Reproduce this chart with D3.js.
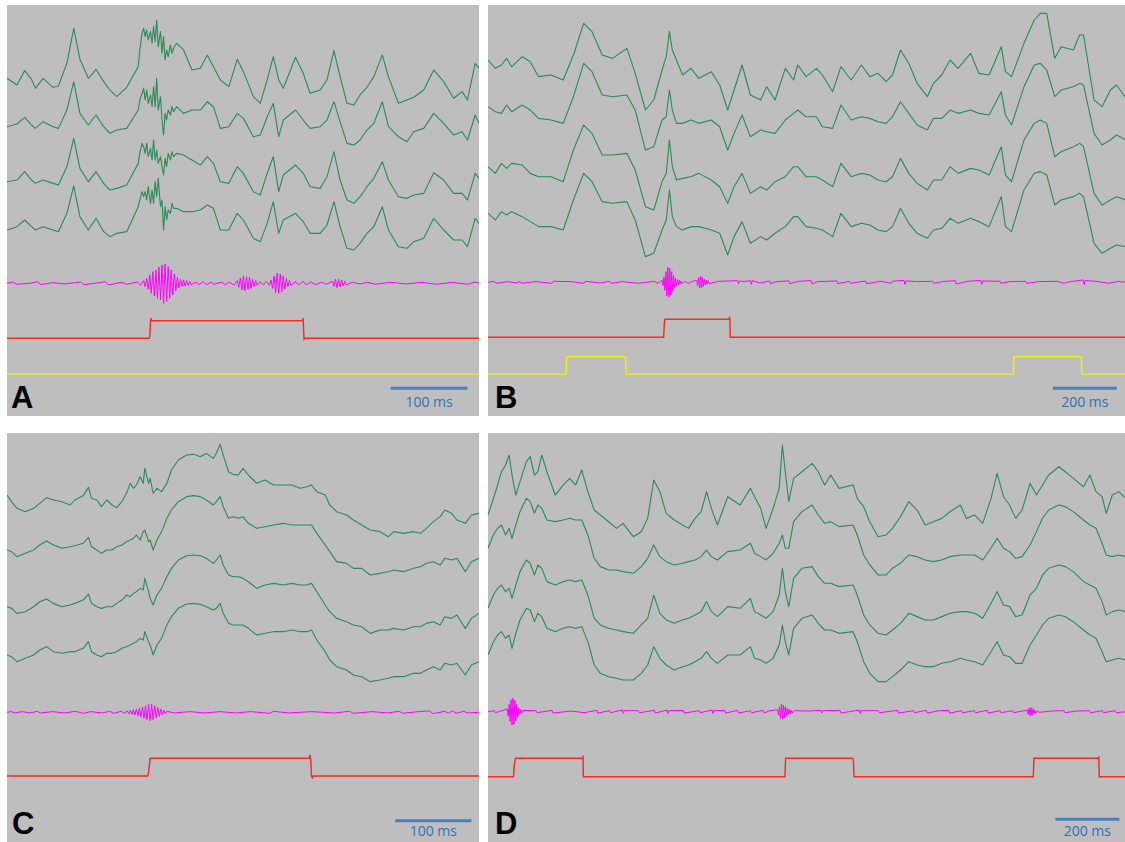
<!DOCTYPE html>
<html>
<head>
<meta charset="utf-8">
<script src="https://cdn.jsdelivr.net/npm/d3@7"></script>
<style>
  body { margin: 0; background: #fff; }
  svg { display: block; }
  .green { fill: none; stroke: #2c8a58; stroke-width: 1.1; stroke-linejoin: round; }
  .mag { fill: none; stroke: #ff00ff; stroke-width: 1; stroke-linejoin: round; }
  .ttl-red { fill: none; stroke: #f42a24; stroke-width: 1.4; }
  .ttl-yel { fill: none; stroke: #eded1c; stroke-width: 1.6; }
  .bar { stroke: #4a7fc1; stroke-width: 3; }
  .bar-text { fill: #2f70b9; font-family: "Open Sans", sans-serif; font-size: 14px; text-anchor: middle; }
  .panel-label { fill: #000; font-family: "Liberation Sans", Arial, sans-serif; font-weight: bold; font-size: 31px; }
</style>
</head>
<body>
<svg width="1125" height="842"></svg>
<script>
// ---- panel A (ms, sample times shared by the 4 channels) ----
const timesA = [0,13,23,32,37,47,60,67,78,87,
  95,106,116,126,134,143,156,171,
  173,176,178,180,182,184,187,189,191,193,195,197,200,202,204,206,208,210,213,215,217,
  221,230,241,252,261,269,278,289,300,308,
  321,330,339,347,354,360,376,386,395,408,
  417,426,434,443,452,460,469,478,489,497,
  510,521,530,543,556,569,582,593,600,610,615];
const greenA1 = [0,-20,23,-3,-30,0,-27,-23,45,150,
  57,0,27,-10,-35,-55,-27,35,
  85,135,150,125,145,115,140,105,155,110,175,95,140,75,125,55,85,65,100,75,90,
  105,85,25,30,70,35,-5,-25,57,20,
  -55,-75,-5,65,-5,-30,63,15,-45,-35,
  -5,83,5,-75,-80,-50,-27,5,70,5,
  -75,-65,-57,-35,25,-10,-60,-40,-65,45,30];
const greenA2 = [0,8,28,5,-5,15,0,-5,50,135,
  40,5,35,0,-20,-10,-5,50,
  80,100,115,80,110,70,95,60,120,60,145,50,90,20,-25,40,20,50,35,60,45,
  60,40,50,50,75,60,-5,0,40,25,
  -30,-25,30,70,-30,20,50,20,-5,0,
  20,75,15,-50,-55,-40,-10,10,75,0,
  -30,-45,-15,-5,40,10,-25,-15,-40,35,10];
const greenA3 = [0,5,30,5,-5,5,-5,-10,45,130,
  40,0,30,-5,-25,-20,-10,55,
  85,115,105,85,115,75,100,65,125,65,95,55,75,45,20,70,45,85,65,90,75,
  85,80,65,50,75,55,0,-5,45,25,
  -30,-40,25,75,-30,20,50,25,-15,-20,
  15,90,5,-55,-65,-45,-15,10,60,5,
  -45,-50,-40,-35,27,5,-35,-35,-55,25,10];
const greenA4 = [0,10,30,10,0,10,0,-5,50,132,
  40,0,35,-5,-20,-10,-5,70,
  90,115,100,115,90,130,80,120,80,145,100,155,70,90,0,70,30,60,50,80,65,
  65,55,55,60,75,65,0,0,50,30,
  -25,-35,20,85,-10,30,50,25,-10,-10,
  15,85,10,-55,-60,-40,-10,10,70,0,
  -50,-55,-35,-25,35,0,-30,-30,-50,35,20];
const magentaA = [[0,0],[8,4],[12,-3],[30,0],[40,5],[44,-4],[60,2],[75,-2],[96,4],[100,-4],[115,0],[128,5],[132,-5],[150,3],[156,-3],[170,4],[174,-6],
  [178,8],[180,-10],[182,15],[184,-18],[186,25],[188,-30],[190,35],[192,-38],[194,40],[196,-45],[198,48],[200,-50],[202,55],[204,-60],[206,58],[208,-55],[210,50],[212,-45],[214,40],[216,-35],[218,28],[220,-22],[222,18],[224,-14],[226,12],[228,-10],[230,10],[232,-8],[234,8],[236,-6],[238,6],[240,-5],
  [246,4],[250,-4],[256,5],[260,-4],[266,3],[270,-3],[280,4],[284,-4],[290,3],[296,-5],
  [300,8],[302,-12],[304,16],[306,-20],[308,22],[310,-22],[312,20],[314,-18],[316,18],[318,-15],[320,12],[322,-10],[324,8],[326,-6],
  [330,5],[334,-5],[338,6],[342,-6],
  [344,10],[346,-15],[348,22],[350,-28],[352,30],[354,-30],[356,28],[358,-25],[360,22],[362,-18],[364,14],[366,-10],[368,8],[370,-6],
  [376,5],[380,-5],[386,6],[390,-5],[396,4],[402,-4],[410,3],[416,-3],
  [424,6],[426,-9],[428,12],[430,-13],[432,12],[434,-11],[436,10],[438,-8],[440,6],[442,-5],
  [450,3],[460,-2],[470,3],[480,-3],[500,3],[520,-2],[540,3],[560,-3],[580,3],[600,-3],[610,4],[615,0]];
const redA = [[0,0],[185,0],[186,0.1],[187,1],[187.5,1.15],[188,1],[385,1],[385.5,1.15],[386,1],[387,-0.05],[388,0],[615,0]];
const yellowA = [[0,0],[615,0]];
const scaleBarA = [500, 600];

// ---- panel B ----
const timesB = [0,23,42,58,74,107,132,158,197,235,
  267,299,325,357,389,434,460,492,518,544,
  557,567,576,589,608,634,659,698,724,749,
  769,794,820,852,871,897,929,955,968,994,
  1026,1045,1077,1103,1135,1167,1193,1219,1244,1264,
  1289,1315,1341,1373,1392,1418,1444,1469,1508,1534,
  1566,1604,1617,1636,1675,1707,1726,1746,1771,1791,
  1829,1849,1861,1894,1919,1945,1964,1994];
const greenB1 = [0,-25,-15,5,-20,10,-5,-50,-45,-60,
  15,110,85,15,5,35,-40,-150,-120,-30,
  10,85,30,0,-45,-25,-55,-35,-75,-150,
  -90,-15,-105,-120,-80,-120,-25,-60,-15,-50,
  -25,-45,-95,-20,-60,-15,-50,-40,-65,-45,
  30,-10,-70,-110,-70,-45,0,-25,20,-40,
  -45,40,-35,-50,50,120,140,140,5,40,
  30,75,75,-120,-140,-90,-75,-115];
const greenB2 = [0,-15,-20,5,-15,5,-10,-35,-40,-50,
  30,130,105,35,30,35,-10,-130,-120,-40,
  -30,50,-10,-50,-50,-40,-50,-40,-60,-130,
  -80,-25,-90,-70,-75,-80,-40,-20,-10,-30,
  -30,-60,-65,5,-40,-30,-35,-45,-50,-30,
  15,-20,-55,-70,-35,-35,-10,-20,-10,-20,
  -25,45,-25,-55,60,125,130,110,30,50,
  60,70,65,-80,-115,-100,-85,-100];
const greenB3 = [0,-20,10,-5,10,5,-20,-30,-30,-45,
  50,125,100,35,35,40,-10,-120,-130,-45,
  -20,80,0,-40,-35,-30,-20,-40,-60,-110,
  -60,-20,-80,-60,-70,-45,-30,0,0,-30,
  -30,-40,-60,10,-30,-20,-25,-40,-45,-30,
  25,-20,-50,-70,-40,-40,0,-20,-5,-10,
  -25,60,-25,-45,80,130,140,130,30,45,
  60,70,60,-80,-115,-100,-90,-100];
const greenB4 = [0,-20,5,-5,5,-10,-25,-40,-40,-50,
  40,120,95,35,30,35,-20,-130,-120,-50,
  -20,70,-10,-40,-50,-40,-40,-50,-60,-125,
  -70,-25,-90,-70,-80,-60,-40,-10,-10,-40,
  -45,-50,-70,0,-40,-30,-35,-50,-55,-40,
  15,-30,-60,-75,-50,-45,-15,-30,-15,-25,
  -40,50,-40,-55,70,120,125,115,25,40,
  50,60,50,-90,-120,-105,-95,-100];
const magentaB = [[0,0],[20,3],[25,-3],[60,2],[90,-2],[100,3],[104,-3],[150,2],[200,-3],[204,3],[260,2],[300,-3],[304,3],[350,-2],[380,3],[384,-3],[420,2],[470,-3],[520,3],[530,-3],
  [544,6],[547,-10],[550,16],[553,-24],[556,32],[559,-40],[562,45],[565,-45],[568,42],[571,-38],[574,32],[577,-26],[580,20],[583,-15],[586,12],[589,-10],[592,8],[595,-7],[598,6],[601,-5],[604,4],[607,-4],
  [615,3],[625,-3],[640,3],
  [652,6],[655,-10],[658,14],[661,-17],[664,18],[667,-17],[670,15],[673,-13],[676,10],[679,-9],[682,7],[685,-6],[688,5],[691,-4],
  [720,3],[780,5],[783,-5],[786,4],[800,2],[820,5],[823,-6],[826,5],[850,-2],[880,4],[883,-4],[900,2],[940,4],[943,-4],[970,3],[1010,5],[1013,-5],[1030,2],[1090,4],[1093,-4],[1130,3],[1133,-3],[1180,4],[1183,-4],[1230,3],[1260,-3],[1263,3],[1300,6],[1303,-6],[1306,4],[1340,2],[1390,3],[1393,-3],[1420,2],[1460,5],[1463,-5],[1500,3],[1540,6],[1543,-6],[1546,4],[1600,3],[1603,-3],[1630,2],[1680,3],[1683,-3],[1720,2],[1780,3],[1800,-3],[1820,2],[1860,7],[1863,-7],[1866,5],[1900,3],[1940,-3],[1970,3],[1994,0]];
const redB = [[0,0],[549,0],[551,0.8],[553,1],[754,1],[755,1.15],[756,1],[757,0],[2000,0]];
const yellowB = [[0,0],[244,0],[246,1],[430,1],[432,0],[1642,0],[1644,1],[1854,1],[1856,0],[2000,0]];
const scaleBarB = [1765, 1965];

// ---- panel C ----
const timesC = [0,6,13,24,35,43,52,61,72,83,
  89,100,107,111,118,124,131,138,144,151,
  157,162,166,170,175,179,181,186,188,192,
  197,203,210,216,225,236,245,254,262,271,
  275,280,284,291,297,304,310,317,328,339,
  350,363,374,385,394,400,407,418,424,433,
  446,455,466,477,490,501,508,521,534,543,
  551,560,569,575,584,591,602,610,620];
const greenC1 = [0,-20,-40,-50,-40,-25,-8,-15,-20,-30,
  -15,-2,23,-10,-15,-35,-15,-30,-38,-20,
  5,35,20,30,55,35,80,35,50,5,
  20,10,35,75,105,120,122,115,125,110,
  125,152,120,70,62,60,80,60,35,45,
  30,30,30,20,25,30,10,0,-30,-50,
  -60,-75,-90,-105,-110,-125,-110,-115,-110,-115,
  -100,-80,-65,-45,-55,-75,-85,-60,-55];
const greenC2 = [0,-5,-20,-10,0,15,27,15,5,10,
  13,20,38,10,0,-10,0,0,10,15,
  25,30,35,45,30,55,60,25,30,0,
  30,55,95,120,145,160,163,160,150,135,
  145,160,130,95,100,95,100,80,65,70,
  75,80,75,75,75,75,50,15,-5,-35,
  -40,-55,-55,-75,-70,-65,-60,-65,-55,-50,
  -40,-35,-45,-25,-30,-25,-65,-35,-25];
const greenC3 = [0,-5,-20,-15,0,15,23,10,0,5,
  10,20,38,10,0,-5,0,0,10,20,
  35,30,40,45,55,50,85,45,25,5,
  35,55,90,115,140,153,155,153,145,130,
  140,155,125,95,90,90,85,75,55,65,
  70,65,70,65,65,70,45,5,-15,-35,
  -45,-55,-60,-80,-70,-70,-65,-70,-60,-60,
  -50,-45,-55,-30,-35,-25,-65,-35,-20];
const greenC4 = [0,-5,-20,-10,0,15,25,10,5,10,
  10,20,40,10,0,-5,5,5,10,20,
  25,30,35,40,50,45,70,40,30,0,
  30,50,90,115,140,153,155,152,145,135,
  140,155,125,95,90,90,90,80,60,65,
  70,70,75,70,70,75,45,10,-15,-35,
  -45,-60,-65,-80,-75,-70,-65,-65,-55,-55,
  -45,-35,-45,-25,-30,-25,-60,-30,-20];
const magentaC = [[0,0],[6,2],[10,-2],[20,2],[30,-2],[40,3],[44,-2],[60,2],[75,-2],[90,3],[100,-3],[110,2],[125,-2],[135,3],[140,-3],[150,3],[154,-3],
  [158,4],[160,-5],[162,6],[164,-6],[166,8],[168,-8],[170,10],[172,-10],[174,12],[176,-14],[178,16],[180,-18],[182,20],[184,-22],[186,24],[188,-25],[190,24],[192,-22],[194,20],[196,-17],[198,14],[200,-12],[202,10],[204,-8],[206,6],[208,-5],[210,3],
  [220,-2],[240,2],[260,-2],[280,2],[300,-2],[320,2],[345,-3],[350,3],[370,-2],[400,2],[430,-2],[450,3],[455,-3],[480,2],[500,-2],[515,3],[520,-3],[540,2],[555,4],[560,-4],[575,3],[580,-3],[585,4],[590,-3],[600,3],[605,-2],[620,0]];
const redC = [[0,0],[185,0],[186,0.2],[188,1],[397,1],[398,1.2],[399,0.9],[400,0],[401,-0.1],[402,0],[620,0]];
const scaleBarC = [510, 610];

// ---- panel D ----
const timesD = [0,17,30,42,55,66,75,87,100,120,
  132,145,156,168,184,210,235,255,274,293,
  312,332,351,377,402,422,454,479,499,518,
  537,557,582,608,627,647,666,683,698,717,
  749,788,820,833,852,869,891,910,920,929,
  940,955,981,1013,1032,1052,1071,1097,1141,1154,
  1174,1193,1219,1244,1264,1289,1315,1341,1366,1392,
  1418,1444,1476,1495,1521,1546,1572,1591,1611,1630,
  1649,1669,1694,1714,1733,1752,1784,1804,1829,1861,
  1881,1900,1919,1932,1951,1971,1994];
const greenD1 = [-70,-20,20,60,80,110,50,-10,30,90,
  105,50,60,110,60,-10,20,40,20,65,
  0,-55,-70,-90,-110,-95,-135,-120,-80,35,
  0,-65,-85,-100,-110,-80,-60,0,-50,-100,
  -15,-40,10,-15,-50,-110,-50,10,140,60,
  -30,40,60,85,60,20,50,10,20,-20,
  -45,-90,-135,-130,-110,-75,-30,-55,-100,-90,
  -80,-60,-40,-80,-70,-95,-20,55,-15,-40,
  -80,-55,25,-10,20,50,75,60,40,15,
  50,0,-15,-65,-10,0,-20];
const greenD2 = [-30,10,30,40,10,30,0,40,80,120,
  110,75,100,90,55,50,55,60,55,55,
  10,-60,-85,-95,-95,-100,-105,-85,-60,-20,
  -55,-70,-80,-75,-70,-65,-55,-35,-55,-65,
  -40,-35,-15,-45,-55,-65,-45,-15,10,-30,
  -30,50,80,100,70,45,50,35,40,10,
  -50,-80,-110,-110,-90,-75,-50,-55,-65,-70,
  -65,-55,-50,-50,-50,-65,-30,0,-30,-40,
  -60,-55,-20,20,60,85,100,95,80,55,
  40,30,-15,-50,-55,-50,-55];
const greenD3 = [-30,10,30,40,20,30,0,40,80,115,
  105,70,100,90,50,40,50,55,50,55,
  10,-60,-80,-90,-95,-100,-105,-80,-60,10,
  -45,-65,-75,-65,-60,-50,-40,-10,-40,-55,
  -25,-30,0,-40,-50,-60,-40,10,90,20,
  -25,60,90,95,65,45,45,35,40,10,
  -50,-80,-105,-110,-95,-75,-45,-55,-65,-65,
  -55,-45,-40,-40,-45,-60,-15,20,-20,-25,
  -55,-50,10,30,70,90,100,95,80,50,
  40,30,-10,-50,-40,-35,-40];
const greenD4 = [-30,10,30,40,20,30,-10,35,75,110,
  105,70,95,85,50,40,50,55,50,55,
  10,-60,-85,-95,-100,-105,-105,-85,-60,-5,
  -40,-60,-75,-65,-60,-50,-40,-20,-40,-55,
  -30,-30,-5,-40,-45,-55,-40,0,60,10,
  -30,50,80,90,65,45,45,35,40,10,
  -50,-85,-110,-110,-95,-75,-50,-60,-65,-65,
  -55,-50,-40,-45,-50,-60,-20,10,-30,-35,
  -55,-55,0,30,60,80,90,85,70,45,
  30,20,-20,-50,-45,-40,-45];
const magentaD = [[0,0],[20,3],[23,-3],[40,2],
  [60,8],[63,-14],[66,22],[69,-30],[72,36],[75,-40],[78,40],[81,-38],[84,34],[87,-28],[90,22],[93,-17],[96,12],[99,-9],[102,7],[105,-5],[108,4],
  [150,3],[153,-3],[200,4],[203,-4],[260,2],[300,-3],[340,4],[343,-4],[380,3],[383,-3],[420,5],[423,-5],[426,3],[470,3],[473,-3],[520,4],[523,-4],[560,5],[563,-5],[566,3],[610,4],[613,-4],[660,3],[663,-3],[700,5],[703,-5],[706,3],[740,4],[743,-4],[780,4],[783,-4],[820,3],[823,-3],[860,4],[863,-4],[880,3],
  [905,6],[908,-10],[911,15],[914,-20],[917,22],[920,-22],[923,20],[926,-18],[929,15],[932,-12],[935,10],[938,-8],[941,7],[944,-6],[947,5],[950,-4],[955,3],
  [1000,2],[1040,4],[1043,-4],[1046,3],[1100,4],[1103,-4],[1160,5],[1163,-5],[1166,3],[1220,3],[1223,-3],[1280,4],[1283,-4],[1330,3],[1333,-3],[1370,4],[1373,-4],[1410,3],[1440,4],[1443,-4],[1480,3],[1483,-3],[1520,3],[1523,-3],[1560,4],[1563,-4],[1600,3],[1603,-3],[1640,3],[1643,-3],
  [1685,5],[1688,-8],[1691,11],[1694,-12],[1697,12],[1700,-11],[1703,9],[1706,-7],[1709,5],[1712,-4],[1718,3],[1722,-2],
  [1760,2],[1800,3],[1803,-3],[1840,2],[1880,3],[1883,-3],[1920,3],[1923,-3],[1960,3],[1963,-3],[1994,0]];
const redD = [[0,0],[80,0],[82,0.6],[86,1],[296,1],[297,1.15],[298,0],[928,0],[930,1],[1140,1],[1142,0.85],[1144,0],[1704,0],[1706,1],[1908,1],[1909,1.1],[1910,0],[2000,0]];
const scaleBarD = [1773, 1973];

// ---- layout ----
const panels = [
  { id: "A", times: timesA, greens: [greenA1, greenA2, greenA3, greenA4], magenta: magentaA, red: redA, yellow: yellowA,
    box: [7, 5, 479, 416], dur: 615, chBase: [78.3, 126.7, 181.7, 230], magBase: 283.3,
    redY: [338.3, 320.7], yelY: [374, 356.7], bar: scaleBarA, barLabel: "100 ms", barY: 388.3, textY: 407, labelPos: [11, 408] },
  { id: "B", times: timesB, greens: [greenB1, greenB2, greenB3, greenB4], magenta: magentaB, red: redB, yellow: yellowB,
    box: [488, 5, 1125, 416], dur: 2000, chBase: [60, 106.7, 166.7, 213.3], magBase: 282.3,
    redY: [337.3, 319.3], yelY: [374, 356.7], bar: scaleBarB, barLabel: "200 ms", barY: 388.3, textY: 407, labelPos: [495, 408] },
  { id: "C", times: timesC, greens: [greenC1, greenC2, greenC3, greenC4], magenta: magentaC, red: redC, yellow: null,
    box: [7, 433, 479, 842], dur: 620, chBase: [495, 550, 606.7, 655], magBase: 712.3,
    redY: [776, 758.3], yelY: null, bar: scaleBarC, barLabel: "100 ms", barY: 820.7, textY: 836, labelPos: [12, 834] },
  { id: "D", times: timesD, greens: [greenD1, greenD2, greenD3, greenD4], magenta: magentaD, red: redD, yellow: null,
    box: [488, 433, 1125, 842], dur: 2000, chBase: [491.7, 538.3, 598.3, 645], magBase: 711.7,
    redY: [776.7, 758.3], yelY: null, bar: scaleBarD, barLabel: "200 ms", barY: 819.3, textY: 836, labelPos: [495, 834] }
];

const svg = d3.select("svg");
svg.append("rect").attr("width", 1125).attr("height", 842).attr("fill", "#ffffff");

panels.forEach(p => {
  const [x0, y0, x1, y1] = p.box;
  const msPerPx = p.dur === 2000 ? 3.125 : (p.dur / (x1 - x0));
  const x = d3.scaleLinear().domain([0, p.dur]).range([x0, x0 + p.dur / msPerPx]);

  svg.append("clipPath").attr("id", "clip" + p.id)
    .append("rect").attr("x", x0).attr("y", y0).attr("width", x1 - x0).attr("height", y1 - y0);

  svg.append("rect")
    .attr("x", x0).attr("y", y0).attr("width", x1 - x0).attr("height", y1 - y0)
    .attr("fill", "#bebebe");

  const g = svg.append("g").attr("clip-path", `url(#clip${p.id})`);

  // 4 green channels (values in µV, 3 µV per px)
  p.greens.forEach((vals, i) => {
    const y = d3.scaleLinear().domain([0, 150]).range([p.chBase[i], p.chBase[i] - 50]);
    const line = d3.line().x(d => x(d[0])).y(d => y(d[1]));
    g.append("path").attr("class", "green").attr("d", line(d3.zip(p.times, vals)));
  });

  // filtered (magenta) trace
  const ym = d3.scaleLinear().domain([-60, 60]).range([p.magBase + 20, p.magBase - 20]);
  g.append("path").attr("class", "mag")
    .attr("d", d3.line().x(d => x(d[0])).y(d => ym(d[1]))(p.magenta));

  // red TTL
  const yr = d3.scaleLinear().domain([0, 1]).range(p.redY);
  g.append("path").attr("class", "ttl-red")
    .attr("d", d3.line().x(d => x(d[0])).y(d => yr(d[1]))(p.red));

  // yellow TTL
  if (p.yellow) {
    const yy = d3.scaleLinear().domain([0, 1]).range(p.yelY);
    g.append("path").attr("class", "ttl-yel")
      .attr("d", d3.line().x(d => x(d[0])).y(d => yy(d[1]))(p.yellow));
  }

  // scale bar
  svg.append("line").attr("class", "bar")
    .attr("x1", x(p.bar[0])).attr("x2", x(p.bar[1]))
    .attr("y1", p.barY).attr("y2", p.barY);
  svg.append("text").attr("class", "bar-text")
    .attr("x", (x(p.bar[0]) + x(p.bar[1])) / 2).attr("y", p.textY)
    .text(p.barLabel);

  svg.append("text").attr("class", "panel-label")
    .attr("x", p.labelPos[0]).attr("y", p.labelPos[1])
    .text(p.id);
});
</script>
</body>
</html>
